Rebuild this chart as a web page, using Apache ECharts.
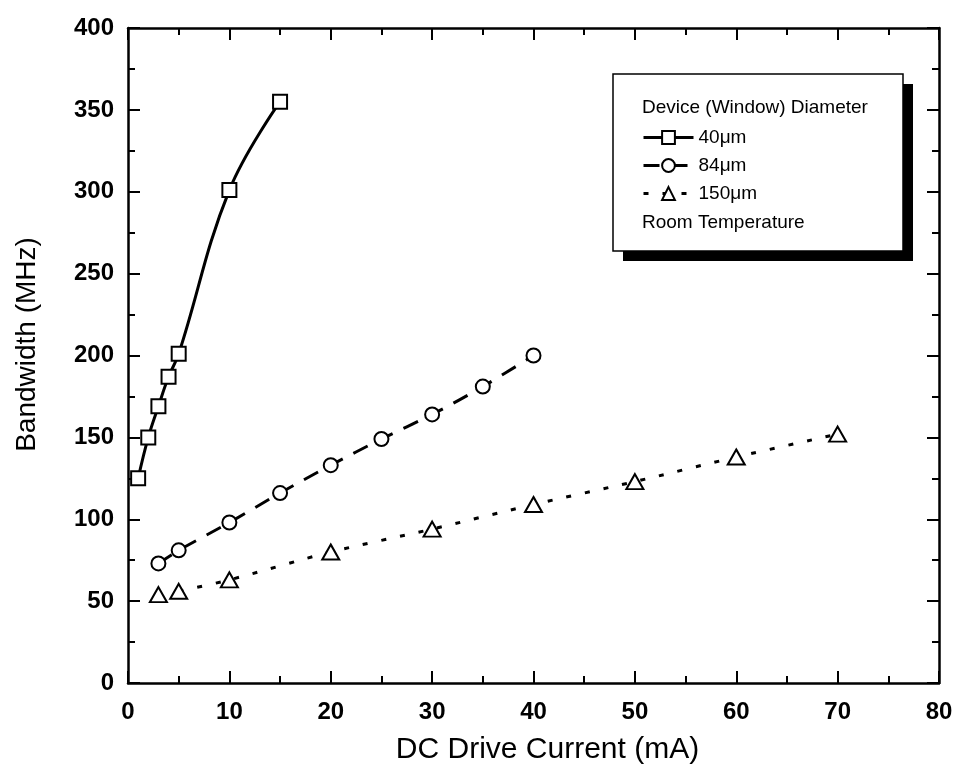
<!DOCTYPE html>
<html>
<head>
<meta charset="utf-8">
<script src="https://cdn.jsdelivr.net/npm/echarts@6/dist/echarts.min.js"></script>
<style>
  html, body { margin: 0; padding: 0; background: #fff; }
  #chart { width: 955px; height: 767px; }
</style>
</head>
<body>
<div id="chart"></div>
<script>
// values
const current40 = [1, 2, 3, 4, 5, 10, 15]
const bandwidth40 = [125, 150, 169, 187, 201, 301, 355]
const current84 = [3, 5, 10, 15, 20, 25, 30, 35, 40]
const bandwidth84 = [73, 81, 98, 116, 133, 149, 164, 181, 200]
const current150 = [3, 5, 10, 20, 30, 40, 50, 60, 70]
const bandwidth150 = [54, 56, 63, 80, 94, 109, 123, 138, 152]

const seriesNames = ["40\u03bcm", "84\u03bcm", "150\u03bcm"]
const legendTitle = "Device (Window) Diameter"
const legendNote = "Room Temperature"

const pairs = (xs, ys) => xs.map((x, i) => [x, ys[i]])

const font = "'Liberation Sans', Arial, sans-serif"
const marker = {color: "#fff", borderColor: "#000", borderWidth: 2, opacity: 1}

const chart = echarts.init(document.getElementById("chart"), null, {renderer: "canvas"})

const axisCommon = {
    axisLine: {show: true, onZero: false, lineStyle: {color: "#000", width: 2.5}},
    axisTick: {show: true, inside: true, length: 12, lineStyle: {color: "#000", width: 2}},
    minorTick: {show: true, splitNumber: 2, length: 7, lineStyle: {color: "#000", width: 2}},
    splitLine: {show: false}
}

const option = {
    animation: false,
    backgroundColor: "#fff",
    grid: {left: 128, right: 16, top: 28, bottom: 84, containLabel: false, outerBoundsMode: "none"},
    xAxis: [{
        ...axisCommon,
        type: "value", min: 0, max: 80, interval: 10,
        name: "DC Drive Current (mA)", nameLocation: "middle", nameGap: 52,
        nameTextStyle: {fontFamily: font, fontSize: 30, color: "#000", padding: [0, 0, 0, 28]},
        axisLabel: {fontFamily: font, fontSize: 24, fontWeight: "bold", color: "#000", margin: 17}
    }, {
        ...axisCommon,
        type: "value", position: "top", min: 0, max: 80, interval: 10,
        axisLabel: {show: false}
    }],
    yAxis: [{
        ...axisCommon,
        type: "value", min: 0, max: 400, interval: 50,
        name: "Bandwidth (MHz)", nameLocation: "middle", nameGap: 87,
        nameTextStyle: {fontFamily: font, fontSize: 28, color: "#000", padding: [0, 0, 0, 22]},
        axisLabel: {fontFamily: font, fontSize: 24, fontWeight: "bold", color: "#000", margin: 14}
    }, {
        ...axisCommon,
        type: "value", position: "right", min: 0, max: 400, interval: 50,
        axisLabel: {show: false}
    }],
    legend: {
        orient: "vertical", left: 642, top: 128, padding: 0, z: 10,
        itemWidth: 50, itemHeight: 16, itemGap: 9,
        lineStyle: {width: 3},
        textStyle: {fontFamily: font, fontSize: 19, color: "#000"},
        data: seriesNames
    },
    graphic: [
        {type: "rect", z: 1, shape: {x: 623, y: 84, width: 290, height: 177}, style: {fill: "#000"}},
        {type: "rect", z: 2, shape: {x: 613, y: 74, width: 290, height: 177}, style: {fill: "#fff", stroke: "#000", lineWidth: 1.5}},
        {type: "text", z: 3, left: 642, top: 98, style: {text: legendTitle, font: "19px " + font, fill: "#000"}},
        {type: "text", z: 3, left: 642, top: 213, style: {text: legendNote, font: "19px " + font, fill: "#000"}}
    ],
    series: [{
        name: seriesNames[0], type: "line", smooth: 0.4,
        data: pairs(current40, bandwidth40),
        symbol: "rect", symbolSize: 14,
        itemStyle: marker,
        lineStyle: {color: "#000", width: 3, type: "solid"},
        z: 3
    }, {
        name: seriesNames[1], type: "line", smooth: 0.3,
        data: pairs(current84, bandwidth84),
        symbol: "circle", symbolSize: 14,
        itemStyle: marker,
        lineStyle: {color: "#000", width: 3, type: [16, 12]},
        z: 3
    }, {
        // the dotted fit starts at 5 mA
        name: seriesNames[2], type: "line", smooth: 0.3,
        data: pairs(current150, bandwidth150).slice(1),
        symbol: "triangle", symbolSize: [17, 15],
        itemStyle: marker,
        lineStyle: {color: "#000", width: 3, type: [5, 14]},
        z: 3
    }, {
        name: "150 first", type: "scatter",
        data: pairs(current150, bandwidth150).slice(0, 1),
        symbol: "triangle", symbolSize: [17, 15],
        itemStyle: marker,
        z: 3
    }]
}

chart.setOption(option)
</script>
</body>
</html>
